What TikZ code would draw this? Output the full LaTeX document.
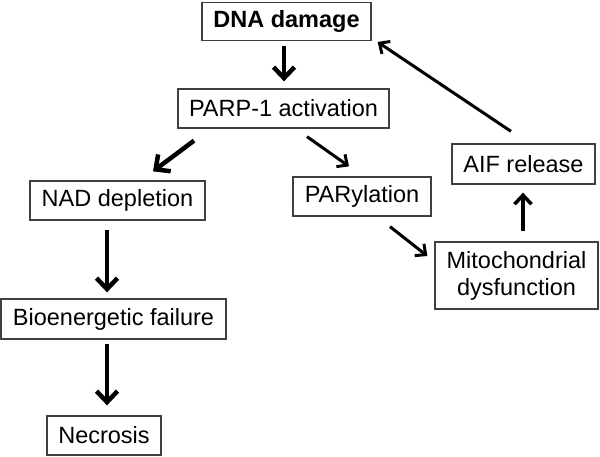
\documentclass[tikz,border=0pt]{standalone}
\usepackage{fontspec}
\setmainfont{Liberation Sans}
\usetikzlibrary{arrows.meta,calc}
\begin{document}
\begin{tikzpicture}[x=1pt,y=-1pt,
  box/.style={draw=black!75,line width=1.3pt,rectangle,inner sep=0pt,align=center,
    font=\fontsize{23.5}{27}\selectfont},
  thickarrow/.style={line width=4.5pt,-{Straight Barb[length=11pt,width=21pt,line width=4.5pt]}},
  thinarrow/.style={line width=3pt,-{Straight Barb[length=8pt,width=15pt,line width=3pt]}},
  midarrow/.style={line width=3.5pt,-{Straight Barb[length=9pt,width=17pt,line width=3.5pt]}}]
\useasboundingbox (0,0) rectangle (600,456);
\node[box,minimum width=169pt,minimum height=38pt,font=\fontsize{23.5}{27}\selectfont\bfseries] (dna) at (286.5,21.5) {DNA damage};
\node[box,minimum width=211pt,minimum height=39pt] (parp) at (283.5,108.5) {PARP-1 activation};
\node[box,minimum width=175pt,minimum height=39pt] (nad) at (117.5,200.5) {NAD depletion};
\node[box,minimum width=225pt,minimum height=40pt] (bio) at (113.5,319) {Bioenergetic failure};
\node[box,minimum width=114pt,minimum height=39pt] (nec) at (104,435.5) {Necrosis};
\node[box,minimum width=138pt,minimum height=39pt] (pary) at (362,196.5) {PARylation};
\node[box,minimum width=143pt,minimum height=40pt] (aif) at (523.5,164) {AIF release};
\node[box,minimum width=163pt,minimum height=67pt] (mito) at (516.5,275.5) {Mitochondrial\\dysfunction};
\draw[thickarrow] ($(dna.south)+(-2.5,5)$) -- ($(parp.north)+(0.5,-7)$);
\draw[thickarrow] ($(parp.south)+(-89.5,12)$) -- ($(nad.north)+(35.5,-9)$);
\draw[thinarrow] ($(parp.south)+(23.5,8)$) -- ($(pary.north)+(-13,-10)$);
\draw[thickarrow] ($(nad.south)+(-10.5,9)$) -- ($(bio.north)+(-6.5,-6)$);
\draw[thickarrow] ($(bio.south)+(-6.5,4)$) -- ($(nec.north)+(3,-10)$);
\draw[thinarrow] ($(pary.south)+(28,10)$) -- ($(mito.west)+(-7,-19.5)$);
\draw[midarrow] ($(mito.north)+(6.5,-10)$) -- ($(aif.south)+(-0.5,8)$);
\draw[thinarrow] ($(aif.north)+(-12.5,-12)$) -- ($(dna.east)+(6,20.5)$);
\end{tikzpicture}
\end{document}
